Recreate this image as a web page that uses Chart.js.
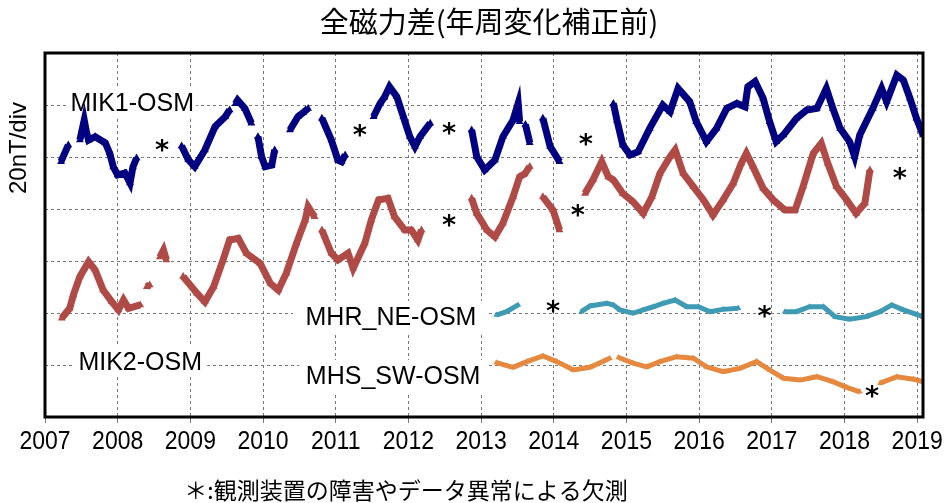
<!DOCTYPE html>
<html>
<head>
<meta charset="utf-8">
<script src="https://cdn.jsdelivr.net/npm/chart.js@4/dist/chart.umd.min.js"></script>
<style>
html,body{margin:0;padding:0;background:#fff;}
#wrap{width:947px;height:503px;position:relative;}
</style>
</head>
<body>
<div id="wrap"><canvas id="c" width="947" height="503"></canvas></div>
<script>
// ---- data (year, nT relative; null = gap) ----
const mik1X = [2007.22,2007.32,null,2007.48,2007.54,2007.57,2007.60,2007.69,2007.83,2007.89,2007.94,2008.00,2008.10,2008.17,2008.21,2008.26,null,
  2008.88,2008.97,2009.06,2009.20,2009.34,2009.48,2009.54,null,2009.62,2009.65,2009.75,2009.84,null,2009.93,2009.98,2010.03,2010.12,2010.16,null,
  2010.37,2010.48,2010.55,2010.62,null,2010.81,2010.94,2011.03,2011.08,2011.13,null,
  2011.52,2011.61,2011.67,2011.74,2011.84,2011.93,2012.02,2012.09,2012.16,2012.30,null,
  2012.87,2012.94,2013.05,2013.19,2013.30,2013.44,2013.51,2013.53,null,2013.61,2013.67,null,2013.85,2013.95,2014.08,null,
  2014.82,2014.87,2014.95,2015.05,2015.16,2015.32,2015.50,2015.60,2015.71,2015.87,2015.96,2016.10,2016.24,2016.38,2016.52,2016.63,2016.67,2016.77,2016.88,2016.97,2017.06,2017.16,2017.34,2017.48,2017.62,2017.75,2017.84,2017.94,2018.07,2018.14,2018.21,2018.39,2018.51,2018.58,2018.72,2018.81,2018.90,2018.99,2019.08];
const mik1Y = [98.2,104.6,null,106.5,114.2,109.7,106.5,107.8,105.4,101.5,96.2,93.1,93.8,90.0,96.2,99.6,null,
  104.2,99.0,96.3,102.7,111.7,115.5,118.1,null,120.5,121.9,118.7,113.0,null,107.8,100.1,96.3,96.9,102.7,null,
  110.4,115.5,117.0,118.7,null,114.9,106.5,98.8,98.2,100.8,null,
  115.5,120.6,123.0,127.0,123.2,115.5,107.8,104.0,107.8,113.0,null,
  110.4,100.1,95.0,98.8,107.8,114.2,120.6,113.6,null,112.5,105.5,null,114.9,104.0,98.2,null,
  120.6,114.0,104.6,100.8,102.0,111.0,120.0,117.4,126.4,121.3,113.6,105.9,111.0,118.7,120.6,119.3,127.0,129.0,122.6,113.6,105.9,108.5,114.9,118.1,118.7,126.4,118.7,111.0,105.9,100.1,108.5,118.7,126.4,121.3,131.5,129.6,122.6,114.9,108.5];

const mik2X = [2007.23,2007.34,2007.39,2007.48,2007.60,2007.69,2007.80,2007.92,2008.01,2008.08,2008.15,2008.31,null,
  2008.40,2008.44,null,2008.58,2008.63,2008.67,null,
  2008.90,2009.09,2009.20,2009.32,2009.45,2009.54,2009.66,2009.77,2009.96,2010.10,2010.21,2010.32,2010.46,2010.58,2010.62,2010.71,null,
  2010.81,2010.94,2011.03,2011.17,2011.24,2011.40,2011.49,2011.59,2011.72,2011.81,2011.95,2012.04,2012.13,2012.18,null,
  2012.87,2012.94,2013.08,2013.19,2013.30,2013.44,2013.53,2013.60,2013.67,null,2013.85,2013.99,2014.08,null,
  2014.43,2014.54,2014.66,2014.75,2014.82,2014.95,2015.09,2015.23,2015.35,2015.46,2015.60,2015.67,2015.78,2015.92,2016.06,2016.19,2016.33,2016.47,2016.58,2016.65,2016.74,2016.88,2017.02,2017.18,2017.32,2017.43,2017.57,2017.68,2017.77,2017.89,2018.03,2018.16,2018.28,2018.35];
const mik2Y = [38.0,41.8,46.9,54.0,59.7,56.5,48.8,44.3,41.2,45.0,41.8,43.1,null,
  50.1,50.8,null,61.5,64.2,60.4,null,
  54.0,47.6,44.3,50.1,60.4,68.1,68.7,63.0,59.1,51.4,48.8,55.3,66.8,75.8,80.9,77.0,null,
  71.9,63.0,60.4,63.0,57.2,66.8,75.8,83.5,84.1,77.0,71.9,71.9,68.1,71.9,null,
  84.1,78.3,71.9,69.3,74.5,84.7,92.4,93.5,96.3,null,84.7,79.6,71.9,null,
  86.0,91.2,98.2,92.4,91.2,86.0,82.8,78.3,84.7,93.7,100.1,102.7,93.7,88.6,83.5,77.7,83.5,89.9,97.6,101.4,96.3,88.0,83.5,79.6,79.6,88.6,101.4,105.3,97.6,88.6,83.5,78.3,82.2,95.0];

const mhrX = [2013.21,2013.35,2013.51,null,
  2014.38,2014.50,2014.73,2014.82,2014.91,2015.09,2015.23,2015.37,2015.50,2015.67,2015.83,2015.99,2016.15,2016.33,2016.54,null,
  2017.18,2017.34,2017.52,2017.71,2017.87,2018.07,2018.30,2018.49,2018.65,2018.81,2019.08];
const mhrY = [39.2,40.5,43.1,null,
  40.5,42.7,43.7,43.1,41.2,39.9,41.2,42.4,43.7,45.0,42.4,42.4,40.5,41.4,41.8,null,
  40.5,40.5,42.4,42.4,38.6,37.6,38.6,40.5,43.1,41.2,38.6];

const mhsX = [2013.21,2013.44,2013.63,2013.85,2014.04,2014.27,2014.50,2014.77,null,
  2014.89,2015.09,2015.28,2015.46,2015.69,2015.92,2016.10,2016.33,2016.56,2016.79,2016.97,2017.16,2017.39,2017.62,2017.84,2018.03,2018.21,null,
  2018.49,2018.72,2018.95,2019.08];
const mhsY = [20.9,19.1,21.3,23.5,21.3,18.1,19.1,22.6,null,
  22.9,20.7,19.3,21.3,23.2,22.6,19.3,17.4,18.7,21.3,18.1,14.9,14.2,15.5,13.6,11.4,9.7,null,
  13.0,15.5,14.5,13.6];

// missing-data markers (year, value)
const gapX = [2008.61,2011.33,2012.56,2014.44,2012.56,2014.33,2018.76,2013.99,2016.90,2018.38];
const gapY = [103.8,109.6,110.4,106.2,75.0,78.8,93.1,41.9,40.0,9.2];

const seriesNames = ['MIK1-OSM','MIK2-OSM','MHR_NE-OSM','MHS_SW-OSM'];
const seriesColors = ['#000080','#B04A46','#3F9BB4','#E6893E'];
const yearTicks = [2007,2008,2009,2010,2011,2012,2013,2014,2015,2016,2017,2018,2019];

const titleText = '全磁力差(年周変化補正前)';
const yAxisText = '20nT/div';
const noteText = '＊:観測装置の障害やデータ異常による欠測';

function pts(xs, ys){ return xs.map((x,i)=>({x: x===null? NaN : x, y: ys[i]})); }

const allData = [[mik1X,mik1Y],[mik2X,mik2Y],[mhrX,mhrY],[mhsX,mhsY]];
const widths = [7,7,5,5];
const radii = [4.5,4.5,3.5,3.5];
const datasets = allData.map((d,i)=>({
  label: seriesNames[i],
  data: pts(d[0], d[1]),
  showLine: true,
  spanGaps: false,
  borderColor: seriesColors[i],
  backgroundColor: seriesColors[i],
  borderWidth: widths[i],
  pointStyle: 'triangle',
  pointRadius: radii[i],
  pointBorderWidth: 0,
  tension: 0
}));

// label placement (data coordinates) for series names
const labelPos = [
  {x:2008.20, y:120.8, w:128, h:30},
  {x:2008.31, y:21.2, w:134, h:30},
  {x:2011.76, y:38.5, w:196, h:32},
  {x:2011.79, y:15.8, w:188, h:32}
];

const decor = {
  id:'decor',
  beforeDatasetsDraw(chart){
    const {ctx, scales:{x,y}} = chart;
    ctx.save();
    ctx.font = '25px "Liberation Sans", Arial, sans-serif';
    ctx.textAlign = 'center'; ctx.textBaseline = 'middle';
    labelPos.forEach((p,i)=>{
      const px = x.getPixelForValue(p.x), py = y.getPixelForValue(p.y);
      ctx.fillStyle = '#fff';
      ctx.fillRect(px - p.w/2, py - p.h/2, p.w, p.h);
      ctx.fillStyle = '#000';
      ctx.fillText(seriesNames[i], px, py+1);
    });
    ctx.restore();
  },
  afterDatasetsDraw(chart){
    const {ctx, chartArea:a, scales:{x,y}} = chart;
    ctx.save();
    ctx.fillStyle = '#000';
    ctx.textAlign = 'center'; ctx.textBaseline = 'middle';
    // asterisks
    ctx.font = 'bold 27px "DejaVu Sans", sans-serif';
    gapX.forEach((gx,i)=>{
      ctx.fillText('*', x.getPixelForValue(gx), y.getPixelForValue(gapY[i]) + 5);
    });
    // frame
    ctx.strokeStyle = '#000'; ctx.lineWidth = 3;
    ctx.strokeRect(a.left, a.top, a.right - a.left, a.bottom - a.top);
    // year labels (condensed)
    ctx.font = '25px "Liberation Sans", Arial, sans-serif';
    yearTicks.forEach(v=>{
      ctx.save();
      ctx.translate(x.getPixelForValue(v), a.bottom + 25);
      ctx.scale(0.92, 1);
      ctx.fillText(String(v), 0, 0);
      ctx.restore();
    });
    // title
    ctx.font = '29px "Noto Sans CJK JP", sans-serif';
    ctx.fillText(titleText, 489, 22);
    // footnote
    ctx.font = '23px "Noto Sans CJK JP", sans-serif';
    ctx.fillText(noteText, 406, 490);
    // y axis label
    ctx.translate(19, 148);
    ctx.rotate(-Math.PI/2);
    ctx.font = '24px "Liberation Sans", Arial, sans-serif';
    ctx.fillText(yAxisText, 0, 0);
    ctx.restore();
  }
};

new Chart(document.getElementById('c'), {
  type: 'scatter',
  data: { datasets },
  plugins: [decor],
  options: {
    responsive: false,
    animation: false,
    layout: { padding: { top: 53, right: 24, left: 0, bottom: 0 } },
    plugins: { legend: { display: false }, tooltip: { enabled: false }, title: { display: false } },
    scales: {
      x: {
        type: 'linear',
        min: yearTicks[0], max: 2019.08,
        afterFit(s){ s.height = 86; },
        afterBuildTicks(s){ s.ticks = yearTicks.map(v=>({value:v})); },
        ticks: { display: false, includeBounds:false, stepSize: 1 },
        grid: { color: '#777', lineWidth: 1, tickLength: 6, tickColor: '#777', tickBorderDash: [], drawTicks: true },
        border: { display: false, dash: [3,3] }
      },
      y: {
        min: 0, max: 140,
        afterFit(s){ s.width = 45; },
        ticks: { display: false, stepSize: 20 },
        grid: { color: '#777', lineWidth: 1, drawTicks: false },
        border: { display: false, dash: [3,3] }
      }
    }
  }
});
</script>
</body>
</html>
